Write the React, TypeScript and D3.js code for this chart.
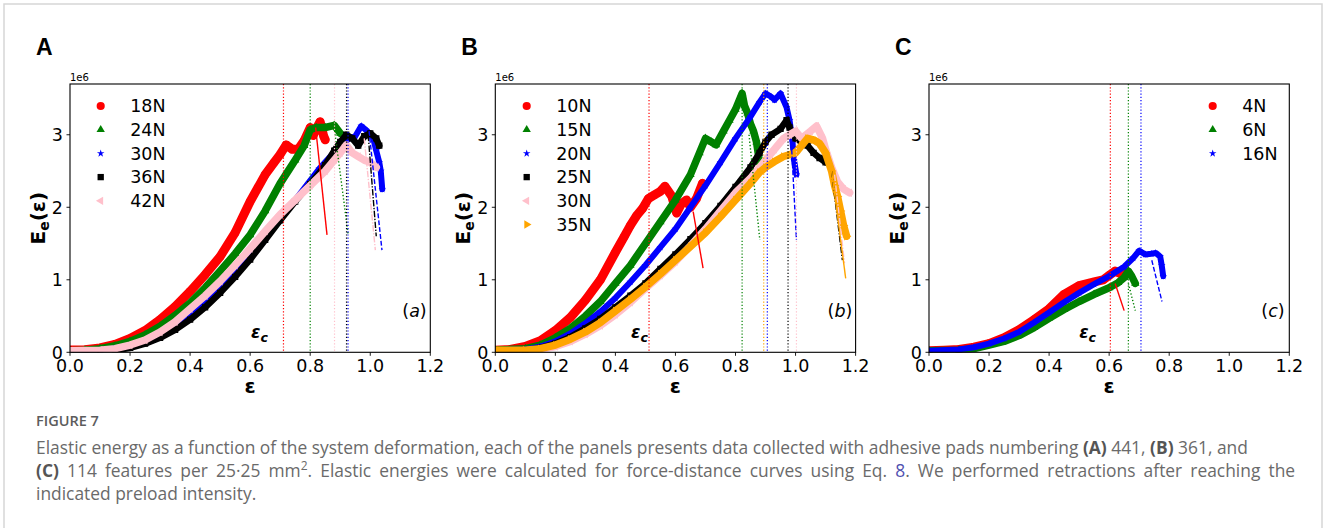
import React from "react";
import * as d3 from "d3";

// shared axis ticks
const epsTicks = [0, 0.2, 0.4, 0.6, 0.8, 1.0, 1.2];
const energyTicks = [0, 1, 2, 3];

// ---- panel A (441 features), E in units of 1e6 ----
const labelsA = ["18N", "24N", "30N", "36N", "42N"];
const a18 = [[0,0.03],[0.05,0.035],[0.1,0.06],[0.15,0.11],[0.2,0.19],[0.25,0.3],[0.3,0.45],[0.35,0.63],[0.4,0.84],[0.45,1.07],[0.5,1.32],[0.55,1.65],[0.6,2.08],[0.65,2.45],[0.68,2.62],[0.7,2.73],[0.72,2.86],[0.74,2.8],[0.76,2.8],[0.78,2.92],[0.8,3.1],[0.81,2.99],[0.82,3.08],[0.833,3.18],[0.845,2.98],[0.85,2.93]];
const a24 = [[0,0.02],[0.05,0.03],[0.1,0.05],[0.15,0.09],[0.2,0.15],[0.25,0.24],[0.3,0.36],[0.35,0.51],[0.4,0.68],[0.45,0.89],[0.5,1.12],[0.55,1.36],[0.6,1.62],[0.65,1.95],[0.7,2.33],[0.75,2.65],[0.78,2.85],[0.8,3.07],[0.82,3.1],[0.85,3.1],[0.88,3.13],[0.9,3.02]];
const a30 = [[0,0.02],[0.1,0.03],[0.2,0.08],[0.3,0.24],[0.4,0.52],[0.5,0.9],[0.6,1.36],[0.68,1.76],[0.75,2.1],[0.83,2.53],[0.9,2.85],[0.93,2.95],[0.95,2.98],[0.97,3.12],[0.99,3.05],[1.01,2.95],[1.02,2.78],[1.03,2.62],[1.035,2.5],[1.04,2.25]];
const a36 = [[0,0.01],[0.1,0.02],[0.15,0.03],[0.2,0.06],[0.25,0.12],[0.3,0.2],[0.35,0.31],[0.4,0.45],[0.45,0.62],[0.5,0.82],[0.55,1.04],[0.6,1.28],[0.65,1.55],[0.7,1.82],[0.75,2.08],[0.8,2.32],[0.85,2.58],[0.88,2.78],[0.9,2.9],[0.92,3.0],[0.94,2.95],[0.96,2.85],[0.98,2.98],[1.0,3.02],[1.02,2.95],[1.03,2.85]];
const a42 = [[0,0.02],[0.1,0.03],[0.15,0.05],[0.2,0.1],[0.25,0.17],[0.3,0.28],[0.35,0.42],[0.4,0.6],[0.45,0.78],[0.5,0.98],[0.55,1.2],[0.6,1.43],[0.65,1.67],[0.7,1.9],[0.75,2.1],[0.8,2.3],[0.85,2.5],[0.88,2.65],[0.9,2.75],[0.92,2.86],[0.94,2.75],[0.96,2.7],[0.98,2.65],[1.0,2.62],[1.02,2.55]];
// retraction fits [eps0, E0, eps1, E1] and critical strains
const fitsA = [[0.818,3.1,0.856,1.62],[0.88,3.1,0.926,1.64],[0.996,3.05,1.039,1.41],[0.993,3.0,1.02,1.6],[0.98,2.95,1.017,1.41]];
const critA = [0.711, 0.8, 0.926, 0.921, 0.881];

// ---- panel B (361 features) ----
const labelsB = ["10N", "15N", "20N", "25N", "30N", "35N"];
const b10 = [[0,0.03],[0.05,0.04],[0.1,0.08],[0.15,0.16],[0.2,0.3],[0.25,0.48],[0.3,0.72],[0.35,1.0],[0.4,1.38],[0.43,1.6],[0.45,1.75],[0.47,1.88],[0.49,1.98],[0.51,2.12],[0.53,2.17],[0.55,2.22],[0.565,2.29],[0.588,2.15],[0.604,1.92],[0.62,2.05],[0.637,2.1],[0.65,2.0],[0.67,2.12],[0.69,2.33]];
const b15 = [[0,0.03],[0.1,0.05],[0.15,0.1],[0.2,0.2],[0.25,0.33],[0.3,0.5],[0.35,0.7],[0.4,0.95],[0.45,1.2],[0.5,1.5],[0.55,1.8],[0.6,2.1],[0.65,2.45],[0.68,2.75],[0.7,2.95],[0.72,2.9],[0.735,2.86],[0.76,3.05],[0.78,3.2],[0.8,3.35],[0.822,3.57],[0.83,3.4],[0.84,3.3],[0.85,3.15],[0.86,3.05],[0.87,2.9],[0.88,2.62]];
const b20 = [[0,0.03],[0.1,0.04],[0.15,0.08],[0.2,0.15],[0.25,0.26],[0.3,0.4],[0.35,0.56],[0.4,0.75],[0.45,0.97],[0.5,1.2],[0.55,1.45],[0.6,1.7],[0.65,2.0],[0.7,2.3],[0.75,2.62],[0.8,2.95],[0.85,3.25],[0.88,3.45],[0.9,3.57],[0.92,3.52],[0.93,3.48],[0.95,3.57],[0.97,3.38],[0.98,3.2],[0.99,2.9],[0.995,2.65],[1.003,2.45]];
const b25 = [[0,0.03],[0.1,0.03],[0.15,0.06],[0.2,0.12],[0.25,0.21],[0.3,0.33],[0.35,0.46],[0.4,0.62],[0.45,0.78],[0.5,0.95],[0.55,1.15],[0.6,1.35],[0.65,1.56],[0.7,1.78],[0.75,2.02],[0.8,2.28],[0.85,2.55],[0.88,2.75],[0.9,2.9],[0.92,3.0],[0.95,3.08],[0.97,3.2],[0.98,3.1],[1.0,2.95],[1.02,2.9],[1.04,2.85],[1.06,2.75],[1.08,2.68],[1.1,2.62]];
const b30 = [[0,0.02],[0.1,0.02],[0.15,0.04],[0.2,0.08],[0.25,0.15],[0.3,0.25],[0.35,0.37],[0.4,0.52],[0.45,0.69],[0.5,0.88],[0.55,1.06],[0.6,1.25],[0.65,1.47],[0.7,1.7],[0.75,1.95],[0.8,2.2],[0.85,2.4],[0.88,2.55],[0.9,2.65],[0.93,2.8],[0.96,2.95],[0.98,3.0],[1.0,3.05],[1.02,2.95],[1.05,3.05],[1.07,3.12],[1.09,2.95],[1.1,2.8],[1.12,2.55],[1.14,2.35],[1.16,2.25],[1.18,2.2]];
const b35 = [[0,0.03],[0.1,0.03],[0.15,0.05],[0.2,0.1],[0.25,0.18],[0.3,0.28],[0.35,0.41],[0.4,0.57],[0.45,0.73],[0.5,0.9],[0.55,1.08],[0.6,1.27],[0.65,1.46],[0.7,1.65],[0.75,1.87],[0.8,2.1],[0.85,2.33],[0.88,2.48],[0.9,2.55],[0.93,2.63],[0.96,2.7],[1.0,2.75],[1.02,2.85],[1.04,2.95],[1.06,2.93],[1.08,2.88],[1.1,2.75],[1.12,2.5],[1.13,2.3],[1.14,2.15],[1.15,1.95],[1.16,1.75],[1.17,1.6]];
const fitsB = [[0.659,1.94,0.692,1.16],[0.845,3.0,0.881,1.55],[0.986,2.89,1.003,1.55],[1.12,2.5,1.156,1.27],[1.13,2.45,1.163,1.23],[1.12,2.5,1.167,1.02]];
const critB = [0.512, 0.822, 0.906, 0.975, 1.003, 0.894];

// ---- panel C (114 features) ----
const labelsC = ["4N", "6N", "16N"];
const c4 = [[0,0.02],[0.05,0.03],[0.1,0.04],[0.15,0.07],[0.2,0.12],[0.25,0.2],[0.3,0.31],[0.35,0.45],[0.4,0.6],[0.45,0.8],[0.5,0.92],[0.55,0.97],[0.58,1.0],[0.6,1.06],[0.62,1.12],[0.64,1.08],[0.66,1.1]];
const c6 = [[0,0.02],[0.1,0.03],[0.15,0.05],[0.2,0.1],[0.25,0.15],[0.3,0.23],[0.35,0.34],[0.4,0.47],[0.45,0.59],[0.5,0.7],[0.55,0.8],[0.6,0.89],[0.63,0.96],[0.65,1.03],[0.664,1.12],[0.675,1.05],[0.687,0.95]];
const c16 = [[0,0.02],[0.1,0.04],[0.15,0.07],[0.2,0.12],[0.25,0.19],[0.3,0.28],[0.35,0.41],[0.4,0.55],[0.45,0.69],[0.5,0.82],[0.55,0.94],[0.6,1.05],[0.65,1.18],[0.68,1.3],[0.7,1.4],[0.72,1.35],[0.74,1.36],[0.755,1.37],[0.77,1.32],[0.775,1.2],[0.78,1.05]];
const fitsC = [[0.62,0.95,0.65,0.575],[0.664,0.95,0.687,0.575],[0.742,1.27,0.776,0.7]];
const critC = [0.604, 0.664, 0.706];

// series look (matplotlib-ish)
const styles: any = {
  red: { color: "#ff0000", marker: "o", band: 9, fit: "solid" },
  green: { color: "#008000", marker: "^", band: 7.5, fit: "dotted" },
  blue: { color: "#0000ff", marker: "*", band: 6, fit: "dashed" },
  black: { color: "#000000", marker: "s", band: 6.5, fit: "dashdot" },
  pink: { color: "#ffc0cb", marker: "<", band: 7.5, fit: "dashdot" },
  orange: { color: "#ffa500", marker: ">", band: 7.5, fit: "solid" },
};

const dash: any = { solid: null, dotted: "1.3 2.1", dashed: "4.8 2.1", dashdot: "6.4 1.6 1.3 1.6" };

function symbolPath(m: string) {
  if (m === "o") return { d: d3.symbol(d3.symbolCircle, 52)(), rot: 0 };
  if (m === "^") return { d: d3.symbol(d3.symbolTriangle, 30)(), rot: 0 };
  if (m === "<") return { d: d3.symbol(d3.symbolTriangle, 30)(), rot: -90 };
  if (m === ">") return { d: d3.symbol(d3.symbolTriangle, 30)(), rot: 90 };
  if (m === "*") return { d: d3.symbol(d3.symbolStar, 18)(), rot: 0 };
  return { d: d3.symbol(d3.symbolSquare, 40)(), rot: 0 };
}

const TOP = 84, BOTTOM = 352.3;
const FONT = "DejaVu Sans, sans-serif";

function Panel(props: any) {
  const { left, letter, tag, series, fits, crit, legendX, ecEps } = props;
  const x = d3.scaleLinear().domain([0, 1.2]).range([left, left + 360.3]);
  const y = d3.scaleLinear().domain([0, 3.7]).range([BOTTOM, TOP]);
  const line = d3.line<number[]>().x(d => x(d[0])).y(d => y(d[1]));
  const clipId = "clip" + letter;
  return (
    <g>
      <text x={left - 34} y={55} fontFamily="Liberation Sans, Arial, sans-serif" fontWeight="bold" fontSize={23}>{letter}</text>
      <defs>
        <clipPath id={clipId}><rect x={left} y={TOP} width={360.3} height={BOTTOM - TOP} /></clipPath>
      </defs>
      <g clipPath={`url(#${clipId})`}>
        {series.map((s: any, i: number) => {
          const st = styles[s.style];
          const sym = symbolPath(st.marker);
          return (
            <g key={"s" + i}>
              <path d={line(s.data) || ""} fill="none" stroke={st.color} strokeWidth={st.band} strokeLinejoin="round" strokeLinecap="round" />
              {s.data.map((p: number[], j: number) => (
                <path key={j} d={sym.d || ""} fill={st.color} transform={`translate(${x(p[0])},${y(p[1])}) rotate(${sym.rot})`} />
              ))}
            </g>
          );
        })}
        {series.map((s: any, i: number) => {
          const st = styles[s.style];
          const f = fits[i];
          return (
            <line key={"f" + i} x1={x(f[0])} y1={y(f[1])} x2={x(f[2])} y2={y(f[3])} stroke={st.color} strokeWidth={1.4} strokeDasharray={dash[st.fit] || undefined} />
          );
        })}
        {series.map((s: any, i: number) => {
          const st = styles[s.style];
          return (
            <line key={"c" + i} x1={x(crit[i])} x2={x(crit[i])} y1={TOP} y2={BOTTOM} stroke={st.color} strokeWidth={1.2} strokeDasharray="1.2 2" />
          );
        })}
      </g>
      {/* frame */}
      <rect x={left} y={TOP} width={360.3} height={BOTTOM - TOP} fill="none" stroke="#000" strokeWidth={1.1} />
      {/* x ticks */}
      {epsTicks.map(t => (
        <g key={"xt" + t}>
          <line x1={x(t)} x2={x(t)} y1={BOTTOM} y2={BOTTOM + 3.5} stroke="#000" strokeWidth={0.9} />
          <text x={x(t)} y={BOTTOM + 20} textAnchor="middle" fontFamily={FONT} fontSize={17.5}>{t.toFixed(1)}</text>
        </g>
      ))}
      {energyTicks.map(t => (
        <g key={"yt" + t}>
          <line x1={left - 3.5} x2={left} y1={y(t)} y2={y(t)} stroke="#000" strokeWidth={0.9} />
          <text x={left - 7} y={y(t)} dy="0.36em" textAnchor="end" fontFamily={FONT} fontSize={17.5}>{t}</text>
        </g>
      ))}
      <text x={left} y={81} fontFamily={FONT} fontSize={10}>1e6</text>
      {/* axis labels */}
      <text x={left + 180} y={393} textAnchor="middle" fontFamily={FONT} fontWeight="bold" fontSize={20}>ε</text>
      <text transform={`translate(${left - 25},${(TOP + BOTTOM) / 2}) rotate(-90)`} textAnchor="middle" fontFamily={FONT} fontWeight="bold" fontSize={20}>
        E<tspan fontSize={14} dy={4}>e</tspan><tspan dy={-4}>(ε)</tspan>
      </text>
      {/* legend */}
      {series.map((s: any, i: number) => {
        const st = styles[s.style];
        const sym = symbolPath(st.marker);
        const ly = 106 + i * 23.7;
        return (
          <g key={"l" + i}>
            <path d={sym.d || ""} fill={st.color} transform={`translate(${legendX},${ly}) rotate(${sym.rot})`} />
            <text x={legendX + 29.5} y={ly} dy="0.36em" fontFamily={FONT} fontSize={17.5}>{s.label}</text>
          </g>
        );
      })}
      {/* annotations */}
      <text x={x(1.2) - 28} y={316.5} fontFamily={FONT} fontSize={17.5}>(<tspan fontStyle="italic">{tag}</tspan>)</text>
      <text x={x(ecEps)} y={338} fontFamily={FONT} fontStyle="italic" fontWeight="bold" fontSize={17}>ε<tspan fontSize={12.5} dy={4}>c</tspan></text>
    </g>
  );
}

const panelA = {
  left: 70, letter: "A", tag: "a", legendX: 100.7, ecEps: 0.603,
  series: [
    { label: labelsA[0], style: "red", data: a18 },
    { label: labelsA[1], style: "green", data: a24 },
    { label: labelsA[2], style: "blue", data: a30 },
    { label: labelsA[3], style: "black", data: a36 },
    { label: labelsA[4], style: "pink", data: a42 },
  ],
  fits: fitsA, crit: critA,
};
const panelB = {
  left: 495.3, letter: "B", tag: "b", legendX: 526.7, ecEps: 0.452,
  series: [
    { label: labelsB[0], style: "red", data: b10 },
    { label: labelsB[1], style: "green", data: b15 },
    { label: labelsB[2], style: "blue", data: b20 },
    { label: labelsB[3], style: "black", data: b25 },
    { label: labelsB[4], style: "pink", data: b30 },
    { label: labelsB[5], style: "orange", data: b35 },
  ],
  fits: fitsB, crit: critB,
};
const panelC = {
  left: 929, letter: "C", tag: "c", legendX: 1212.7, ecEps: 0.5,
  series: [
    { label: labelsC[0], style: "red", data: c4 },
    { label: labelsC[1], style: "green", data: c6 },
    { label: labelsC[2], style: "blue", data: c16 },
  ],
  fits: fitsC, crit: critC,
};

const CAP = "Open Sans, Lato, sans-serif";

export default function App() {
  return (
    <svg width={1328} height={528} style={{ position: "absolute", left: 0, top: 0, display: "block", background: "#fff" }}>
      <rect x={0} y={0} width={1328} height={528} fill="#fff" />
      <rect x={4} y={4} width={1318} height={600} fill="none" stroke="#d6d6d6" strokeWidth={1.5} />
      <Panel {...panelA} />
      <Panel {...panelB} />
      <Panel {...panelC} />
      <g fontFamily={CAP} fill="#6a6a6a">
        <text x={36} y={426} fontSize={14.5} fontWeight={600} fill="#5c5c5c">FIGURE 7</text>
        <text x={36} y={454} fontSize={17.4}>
          Elastic energy as a function of the system deformation, each of the panels presents data collected with adhesive pads numbering{" "}
          <tspan fontWeight="bold" fill="#555">(A)</tspan> 441, <tspan fontWeight="bold" fill="#555">(B)</tspan> 361, and
        </text>
        <text x={36} y={477} fontSize={17.4} wordSpacing={3.6}>
          <tspan fontWeight="bold" fill="#555">(C)</tspan> 114 features per 25·25 mm<tspan fontSize={12} dy={-7}>2</tspan><tspan dy={7}>. Elastic energies were calculated for force-distance curves using Eq. </tspan><tspan fill="#5050b0">8</tspan>. We performed retractions after reaching the
        </text>
        <text x={36} y={500} fontSize={17.4}>indicated preload intensity.</text>
      </g>
    </svg>
  );
}
